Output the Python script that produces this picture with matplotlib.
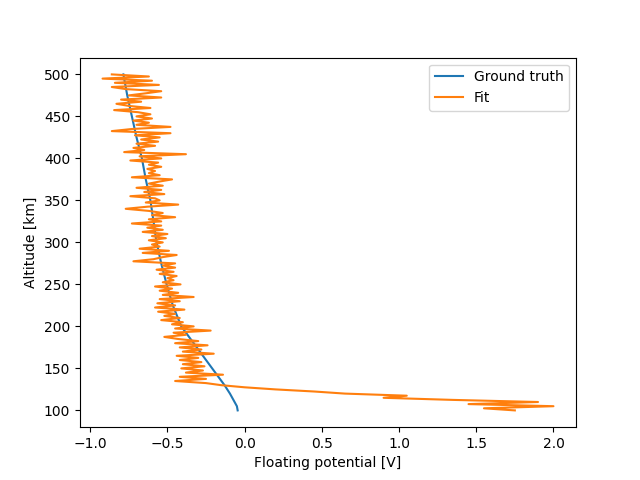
import matplotlib
matplotlib.use("Agg")
import matplotlib.pyplot as plt
import numpy as np

# ground truth profile (altitude in km, potential in V)
truth_alt = [100, 105, 110, 115, 120, 130, 140, 150, 175, 200, 225, 250,
             275, 300, 325, 350, 375, 400, 425, 450, 475, 500]
truth_v = [-0.045, -0.05, -0.065, -0.08, -0.095, -0.13, -0.17, -0.21, -0.31,
           -0.41, -0.465, -0.505, -0.54, -0.57, -0.59, -0.61, -0.64, -0.665,
           -0.70, -0.73, -0.76, -0.785]

# fitted potential, one value every 2.5 km from 100 to 500 km
fit_v = [1.75, 1.55, 2.0, 1.45, 1.9, 1.35, 0.9, 1.05, 0.65, 0.45,
         0.2, 0.0, -0.15, -0.25, -0.45, -0.25, -0.42, -0.14, -0.38, -0.27,
         -0.41, -0.26, -0.4, -0.28, -0.42, -0.3, -0.44, -0.2, -0.4, -0.28,
         -0.42, -0.24, -0.45, -0.3, -0.43, -0.52, -0.38, -0.46, -0.22, -0.45,
         -0.33, -0.47, -0.40, -0.54, -0.42, -0.52, -0.45, -0.56, -0.39, -0.58,
         -0.45, -0.565, -0.42, -0.55, -0.33, -0.53, -0.43, -0.55, -0.47, -0.58,
         -0.415, -0.53, -0.46, -0.50, -0.44, -0.55, -0.46, -0.57, -0.45, -0.53,
         -0.45, -0.72, -0.59, -0.53, -0.44, -0.66, -0.49, -0.68, -0.55, -0.60,
         -0.53, -0.62, -0.51, -0.60, -0.50, -0.66, -0.53, -0.63, -0.54, -0.73,
         -0.54, -0.62, -0.45, -0.6, -0.53, -0.62, -0.77, -0.63, -0.43, -0.64,
         -0.55, -0.58, -0.74, -0.52, -0.65, -0.54, -0.70, -0.53, -0.62, -0.55,
         -0.47, -0.73, -0.55, -0.62, -0.58, -0.63, -0.54, -0.62, -0.56, -0.74,
         -0.54, -0.68, -0.38, -0.78, -0.65, -0.72, -0.58, -0.70, -0.56, -0.67,
         -0.55, -0.71, -0.48, -0.86, -0.73, -0.48, -0.70, -0.62, -0.72, -0.60,
         -0.70, -0.61, -0.69, -0.845, -0.61, -0.75, -0.83, -0.67, -0.80, -0.54,
         -0.75, -0.64, -0.54, -0.77, -0.86, -0.555, -0.84, -0.60, -0.92, -0.62,
         -0.86]
fit_alt = np.linspace(100, 500, len(fit_v))

plt.figure(figsize=(6.4, 4.8), dpi=100)
plt.plot(truth_v, truth_alt, label="Ground truth")
plt.plot(fit_v, fit_alt, label="Fit")
plt.xlabel("Floating potential [V]")
plt.ylabel("Altitude [km]")
plt.legend()
plt.savefig("out.png")
